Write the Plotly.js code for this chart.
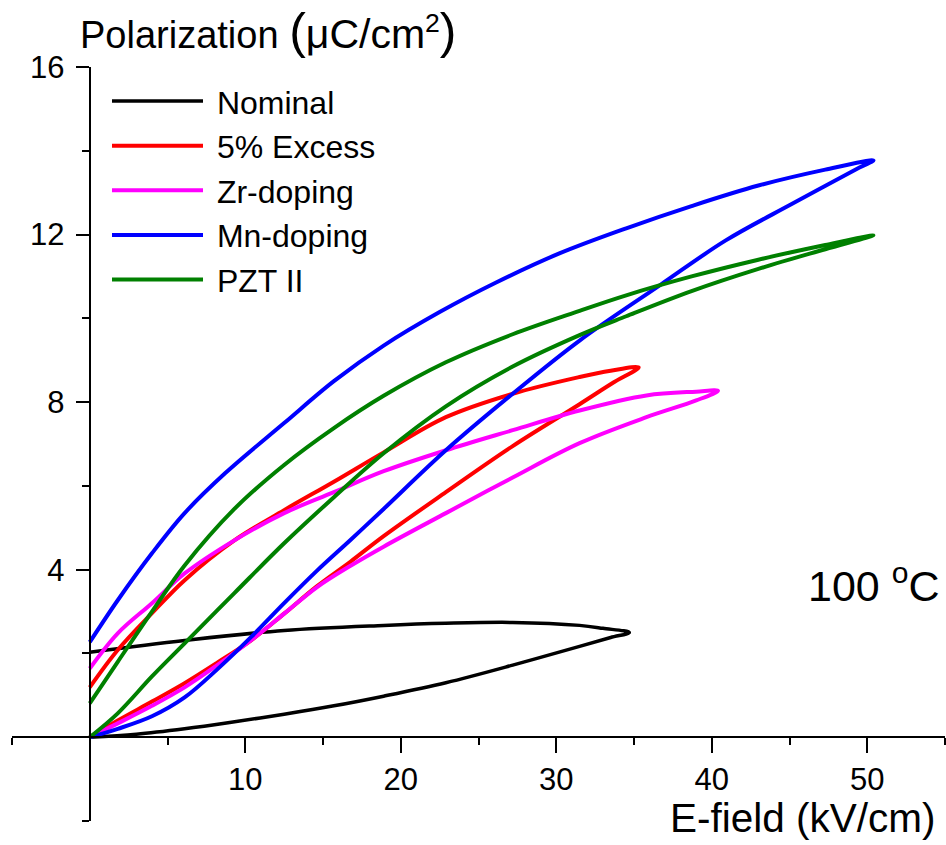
<!DOCTYPE html>
<html>
<head>
<meta charset="utf-8">
<script src="https://cdn.plot.ly/plotly-3.0.1.min.js"></script>
<style>html,body{margin:0;padding:0;background:#fff;}#chart{width:946px;height:845px;}</style>
</head>
<body>
<div id="chart"></div>
<script>
// ---- Data ----
const seriesNames = ["Nominal", "5% Excess", "Zr-doping", "Mn-doping", "PZT II"];

const nominalE = [0, 3, 6.1, 9, 12.5, 15.7, 18.9, 22.9, 27.2, 31.5, 33.5, 34.7, 33, 31.5, 27.2, 22.9, 18.9, 12.5, 6.1, 0];
const nominalP = [0, 0.07, 0.2, 0.35, 0.55, 0.75, 0.98, 1.3, 1.72, 2.17, 2.38, 2.5, 2.6, 2.67, 2.74, 2.72, 2.67, 2.55, 2.31, 2.03];

const excessE = [0, 1.8, 4, 6.1, 8.2, 10.4, 12.5, 14.6, 16.8, 18.9, 22.9, 27.2, 31.5, 33.6, 35.3, 33.5, 31.5, 27.2, 22.9, 18.9, 15.7, 12.5, 9.3, 6.1, 4, 1.8, 0];
const excessP = [0, 0.4, 0.85, 1.29, 1.78, 2.32, 2.95, 3.6, 4.2, 4.8, 5.85, 6.95, 7.95, 8.45, 8.83, 8.75, 8.6, 8.2, 7.64, 6.8, 6.1, 5.42, 4.7, 3.75, 2.96, 2.08, 1.19];

const zrE = [0, 1.8, 4, 6.1, 8.2, 10.4, 12.5, 14.6, 16.8, 18.9, 22.9, 27.2, 31.5, 35.8, 39, 40.4, 39, 35.8, 31.5, 27.2, 22.9, 18.9, 15.7, 12.5, 9.3, 6.1, 4, 1.8, 0];
const zrP = [0, 0.33, 0.75, 1.19, 1.72, 2.32, 2.95, 3.58, 4.1, 4.55, 5.35, 6.2, 7.02, 7.64, 8.04, 8.27, 8.25, 8.16, 7.8, 7.33, 6.85, 6.35, 5.85, 5.35, 4.7, 3.91, 3.2, 2.48, 1.64];

const mnE = [0, 1.8, 4, 6.1, 8.2, 10.4, 12.5, 14.6, 16.8, 18.9, 22.9, 27.2, 31.5, 36.7, 40.9, 45.2, 49.5, 50.4, 47.3, 43, 38.7, 34.5, 30.2, 26.1, 22.5, 18.9, 15.7, 12.5, 8.7, 6.1, 4, 1.8, 0];
const mnP = [0, 0.2, 0.5, 0.95, 1.62, 2.4, 3.2, 3.97, 4.72, 5.45, 6.85, 8.2, 9.47, 10.8, 11.86, 12.74, 13.6, 13.77, 13.55, 13.17, 12.68, 12.15, 11.55, 10.85, 10.15, 9.35, 8.5, 7.5, 6.3, 5.35, 4.39, 3.27, 2.27];

const pztE = [0, 1.8, 4, 6.1, 9.3, 12.5, 15.7, 18.9, 22.9, 27.2, 31.5, 34.5, 38.7, 43, 47.3, 50.4, 47.3, 43, 38.7, 34.5, 31.5, 27.2, 22.9, 18.9, 15.7, 12.5, 9.3, 6.1, 4, 1.8, 0];
const pztP = [0, 0.57, 1.45, 2.24, 3.44, 4.63, 5.73, 6.78, 7.9, 8.85, 9.6, 10.05, 10.65, 11.18, 11.65, 11.98, 11.75, 11.4, 11.0, 10.55, 10.18, 9.62, 8.95, 8.15, 7.38, 6.5, 5.45, 4.1, 3.0, 1.8, 0.81];

const xMajorTicks = [10, 20, 30, 40, 50];
const xMinorTicks = [-5, 5, 15, 25, 35, 45, 55];
const yMajorTicks = [4, 8, 12, 16];
const yMinorTicks = [-2, 2, 6, 10, 14];

// ---- Styles ----
const FONT = "Arial, 'Liberation Sans', Helvetica, sans-serif";
const colors = ["#000000", "#ff0000", "#ff00ff", "#0000ff", "#008000"];
const widths = [3.5, 4, 4, 4, 4];
const xs = [nominalE, excessE, zrE, mnE, pztE];
const ys = [nominalP, excessP, zrP, mnP, pztP];

const traces = seriesNames.map((name, i) => ({
  type: "scatter",
  mode: "lines",
  name: "\u00a0" + name,
  x: xs[i],
  y: ys[i],
  line: {color: colors[i], width: widths[i], shape: "spline", smoothing: 1},
  hoverinfo: "skip"
}));

const layout = {
  width: 946,
  height: 845,
  margin: {l: 12, r: 1, t: 67, b: 24, pad: 0},
  paper_bgcolor: "#ffffff",
  plot_bgcolor: "#ffffff",
  font: {family: FONT, color: "#000000"},
  showlegend: true,
  legend: {
    x: (107 - 12) / 933, y: 0.991, xanchor: "left", yanchor: "top",
    bgcolor: "rgba(0,0,0,0)",
    font: {family: FONT, size: 32, color: "#000"},
    itemwidth: 91,
    tracegroupgap: 0
  },
  title: {
    text: 'Polarization <span style="font-size:50px">(</span><span style="font-size:41px">μC/cm</span><sup>2</sup><span style="font-size:50px">)</span>',
    font: {family: FONT, size: 38, color: "#000"},
    x: 80 / 946, xref: "container", xanchor: "left",
    y: 1 - 35 / 845, yref: "container", yanchor: "middle"
  },
  xaxis: {
    range: [-5, 55],
    anchor: "free",
    position: 2 / 18,
    showgrid: false,
    zeroline: false,
    showline: true,
    linecolor: "#000",
    linewidth: 2,
    ticks: "outside",
    ticklen: 15,
    tickwidth: 2,
    tickcolor: "#000",
    tickmode: "array",
    tickvals: xMajorTicks,
    ticktext: xMajorTicks.map(String),
    tickfont: {family: FONT, size: 31, color: "#000"},
    minor: {tickmode: "array", tickvals: xMinorTicks, ticks: "outside", ticklen: 7, tickwidth: 2, tickcolor: "#000", showgrid: false},
    fixedrange: true
  },
  yaxis: {
    range: [-2, 16],
    anchor: "free",
    position: 5 / 60,
    showgrid: false,
    zeroline: false,
    showline: true,
    linecolor: "#000",
    linewidth: 2,
    ticks: "outside",
    ticklen: 13,
    tickwidth: 2,
    tickcolor: "#000",
    tickmode: "array",
    tickvals: yMajorTicks,
    ticktext: yMajorTicks.map(String),
    ticklabelstandoff: 5,
    tickfont: {family: FONT, size: 31, color: "#000"},
    minor: {tickmode: "array", tickvals: yMinorTicks, ticks: "outside", ticklen: 7, tickwidth: 2, tickcolor: "#000", showgrid: false},
    fixedrange: true
  },
  annotations: [
    {
      text: "E-field (kV/cm)",
      xref: "paper", yref: "paper",
      x: (668 - 12) / 933, y: (821 - 818) / 754,
      xanchor: "left", yanchor: "middle",
      showarrow: false,
      font: {family: FONT, size: 40.5, color: "#000"}
    },
    {
      text: "100 <sup>o</sup>C",
      xref: "paper", yref: "paper",
      x: (806 - 12) / 933, y: (821 - 583) / 754,
      xanchor: "left", yanchor: "middle",
      showarrow: false,
      font: {family: FONT, size: 43, color: "#000"}
    }
  ]
};

Plotly.newPlot("chart", traces, layout, {staticPlot: true, displayModeBar: false});
</script>
</body>
</html>
